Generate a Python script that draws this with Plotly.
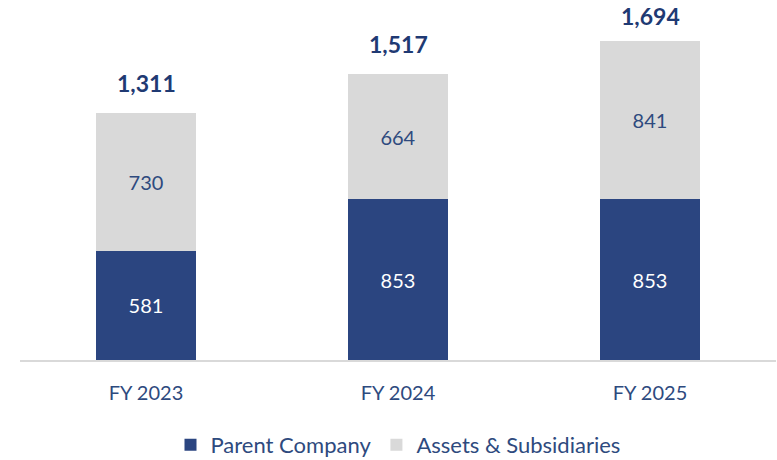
import plotly.graph_objects as go

categories = ["FY 2023", "FY 2024", "FY 2025"]
parent = [581, 853, 853]
assets = [730, 664, 841]
totals = [p + a for p, a in zip(parent, assets)]

BLUE = "#2B4580"
GRAY = "#D9D9D9"
TEXT = "#2E4A7E"
FONT = "Lato"

fig = go.Figure()
fig.add_trace(go.Bar(
    x=categories, y=parent, name="Parent Company",
    marker=dict(color=BLUE, line=dict(width=0)),
    text=[str(v) for v in parent], textposition="inside", insidetextanchor="middle",
    textfont=dict(color="white", size=20, family=FONT),
    width=0.4,
))
fig.add_trace(go.Bar(
    x=categories, y=assets, name="Assets & Subsidiaries",
    marker=dict(color=GRAY, line=dict(width=0)),
    text=[str(v) for v in assets], textposition="inside", insidetextanchor="middle",
    textfont=dict(color=TEXT, size=20, family=FONT),
    width=0.4,
))

label_shift = [14, 14, 9]
for c, t, s in zip(categories, totals, label_shift):
    fig.add_annotation(x=c, y=t, text=f"<b>{t:,}</b>", showarrow=False,
                       yanchor="bottom", yshift=s,
                       font=dict(size=23, color="#1F3A73", family=FONT))

fig.update_layout(
    barmode="stack",
    width=777, height=460,
    margin=dict(l=20, r=1, t=0, b=100, autoexpand=False),
    paper_bgcolor="white", plot_bgcolor="white",
    font=dict(family=FONT, color=TEXT, size=20),
    showlegend=True,
    legend=dict(orientation="h", x=0.5, xanchor="center",
                yref="container", y=1 - 445 / 460, yanchor="middle",
                font=dict(size=22, color=TEXT, family=FONT), traceorder="normal",
                itemwidth=30),
    xaxis=dict(showline=True, linecolor=GRAY, linewidth=2, ticks="", showgrid=False,
               tickfont=dict(size=20, color=TEXT, family=FONT), range=[-0.5, 2.5],
               ticklabelstandoff=14),
    yaxis=dict(visible=False, range=[0, 1912], showgrid=False, zeroline=False),
)

fig.write_html("out.html", config={"displayModeBar": False},
               post_script="document.body.style.margin='0';")
